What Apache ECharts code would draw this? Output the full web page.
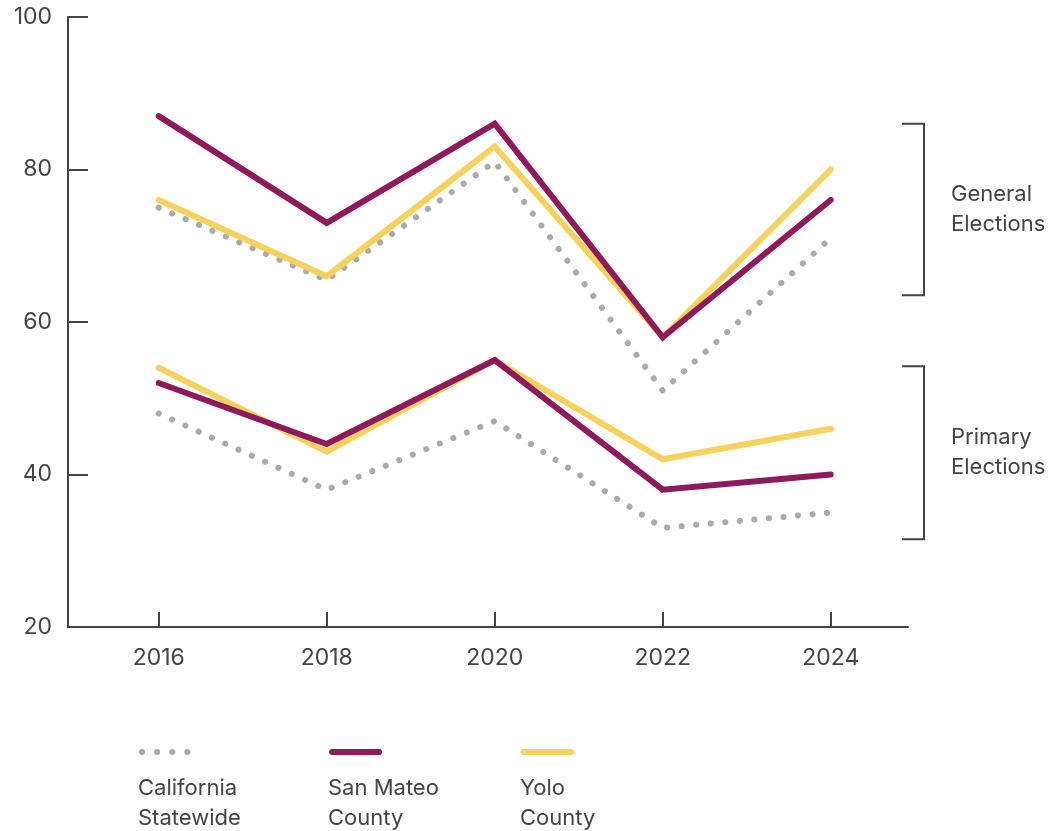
<!DOCTYPE html>
<html>
<head>
<meta charset="utf-8">
<script src="https://cdn.jsdelivr.net/npm/echarts@6/dist/echarts.min.js"></script>
<style>
  html, body { margin: 0; padding: 0; background: #fff; }
  #chart { width: 1056px; height: 831px; }
</style>
</head>
<body>
<div id="chart"></div>
<script>
const years = [2016, 2018, 2020, 2022, 2024]
const yTicks = [20, 40, 60, 80, 100]

const caGeneral = [75, 65.5, 81, 51, 71]
const smGeneral = [87, 73, 86, 58, 76]
const yoloGeneral = [76, 66, 83, 58, 80]

const caPrimary = [48, 38, 47, 33, 35]
const smPrimary = [52, 44, 55, 38, 40]
const yoloPrimary = [54, 43, 55, 42, 46]

const legendNames = ['California\nStatewide', 'San Mateo\nCounty', 'Yolo\nCounty']
const bracketLabels = ['General\nElections', 'Primary\nElections']
const bracketRanges = [[86, 63.5], [54.2, 31.5]]

const GREY = '#a9a9ae'
const MAROON = '#8e1a5b'
const YELLOW = '#f6d15e'
const TEXT = '#444'
const FONT = 'Inter, Roboto, sans-serif'

const chart = echarts.init(document.getElementById('chart'))

const pairs = (vals) => years.map((y, i) => [y, vals[i]])

const dotted = { width: 6, color: GREY, type: [0.1, 14.5], cap: 'round' }
const solid = (c) => ({ width: 6, color: c, cap: 'round', join: 'miter' })

const mk = (name, vals, lineStyle) => ({
  name,
  type: 'line',
  data: pairs(vals),
  symbol: 'none',
  lineStyle,
  silent: true,
})

chart.setOption({
  animation: false,
  grid: { left: 68, right: 148, top: 17, bottom: 204 },
  xAxis: {
    type: 'value',
    min: 2014.92,
    max: 2024.92,
    splitLine: { show: false },
    axisLine: { lineStyle: { color: TEXT, width: 2 } },
    axisTick: { show: true, inside: true, length: 15, customValues: years, lineStyle: { color: TEXT, width: 2 } },
    axisLabel: {
      customValues: years,
      formatter: (v) => String(v),
      color: TEXT,
      fontSize: 23,
      fontFamily: FONT,
      margin: 20,
    },
  },
  yAxis: {
    type: 'value',
    min: 20,
    max: 100,
    splitLine: { show: false },
    axisLine: { show: true, lineStyle: { color: TEXT, width: 2 } },
    axisTick: { show: true, inside: true, length: 20, customValues: yTicks, lineStyle: { color: TEXT, width: 2 } },
    axisLabel: { customValues: yTicks, color: TEXT, fontSize: 23, fontFamily: FONT, margin: 16 },
  },
  series: [
    mk('ca-g', caGeneral, dotted),
    mk('ca-p', caPrimary, dotted),
    mk('yolo-g', yoloGeneral, solid(YELLOW)),
    mk('sm-g', smGeneral, solid(MAROON)),
    mk('yolo-p', yoloPrimary, solid(YELLOW)),
    mk('sm-p', smPrimary, solid(MAROON)),
  ],
})

// brackets on the right, placed from value ranges
const graphics = []
const bx = 924
bracketRanges.forEach(([hi, lo], i) => {
  const yTop = chart.convertToPixel({ yAxisIndex: 0 }, hi)
  const yBot = chart.convertToPixel({ yAxisIndex: 0 }, lo)
  graphics.push({
    type: 'polyline',
    shape: { points: [[bx - 22, yTop], [bx, yTop], [bx, yBot], [bx - 22, yBot]] },
    style: { stroke: TEXT, lineWidth: 2, fill: null },
    silent: true,
  })
  graphics.push({
    type: 'text',
    x: 951,
    y: (yTop + yBot) / 2,
    style: {
      text: bracketLabels[i],
      fill: TEXT,
      font: '22px ' + FONT,
      lineHeight: 30,
      verticalAlign: 'middle',
    },
    silent: true,
  })
})

// legend drawn by hand: icon above a two line label
const legendX = [140, 330, 522]
const legendStyles = [
  { stroke: GREY, lineWidth: 6, lineCap: 'round', lineDash: [0.1, 15] },
  { stroke: MAROON, lineWidth: 6, lineCap: 'round' },
  { stroke: YELLOW, lineWidth: 6, lineCap: 'round' },
]
legendNames.forEach((name, i) => {
  graphics.push({
    type: 'line',
    shape: { x1: legendX[i] + 2, y1: 752, x2: legendX[i] + 49, y2: 752 },
    style: legendStyles[i],
    silent: true,
  })
  graphics.push({
    type: 'text',
    x: legendX[i] - 2,
    y: 803,
    style: {
      text: name,
      fill: TEXT,
      font: '22px ' + FONT,
      lineHeight: 30,
      verticalAlign: 'middle',
    },
    silent: true,
  })
})

chart.setOption({ graphic: graphics })
</script>
</body>
</html>
